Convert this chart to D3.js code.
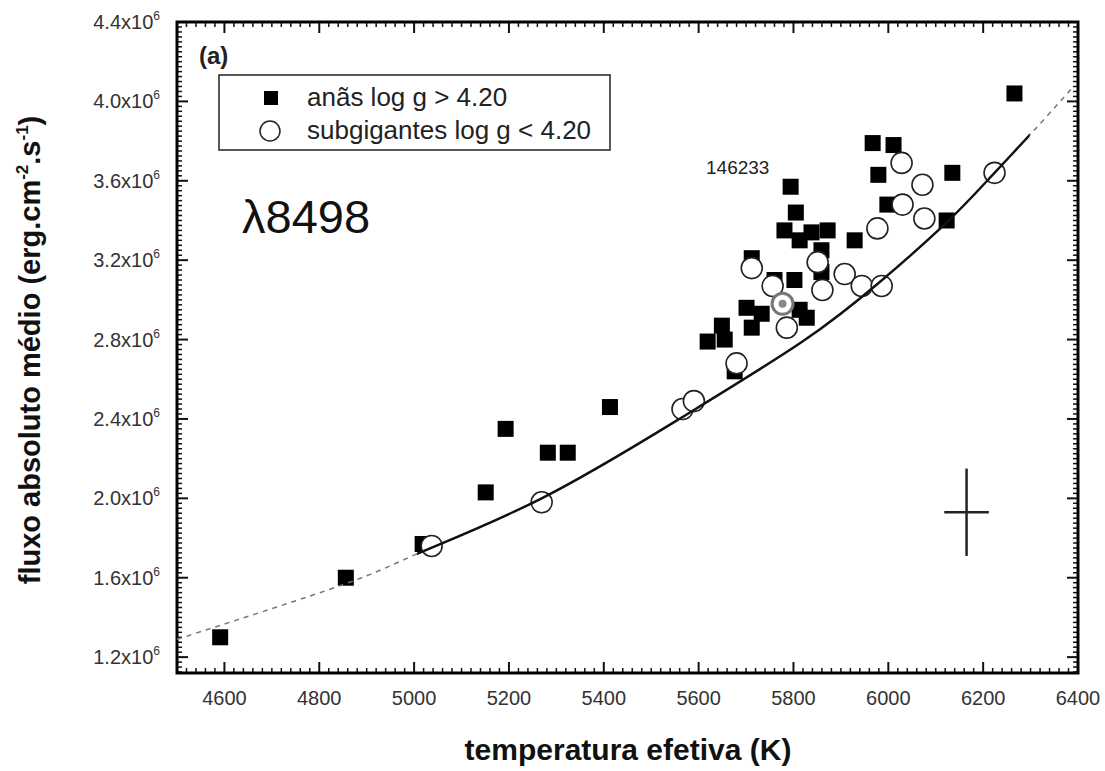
<!DOCTYPE html>
<html>
<head>
<meta charset="utf-8">
<script src="https://cdn.jsdelivr.net/npm/d3@7"></script>
<style>
  body { margin: 0; background: #fff; }
  text { font-family: "Liberation Sans", Arial, sans-serif; }
</style>
</head>
<body>
<svg id="chart" width="1105" height="771"></svg>
<script>
// anãs (log g > 4.20): temperature (K) and mean absolute flux
var dwarfTemp = [4591, 4856, 5018, 5151, 5193, 5282, 5324, 5413, 5619, 5655, 5649, 5676,
                 5701, 5733, 5712, 5760, 5802, 5813, 5828, 5712, 5794, 5805, 5781, 5813,
                 5838, 5872, 5859, 5929, 5967, 6011, 5979, 5998, 6135, 6123, 6266, 5859];
var dwarfFlux = [1.30e6, 1.60e6, 1.77e6, 2.03e6, 2.35e6, 2.23e6, 2.23e6, 2.46e6, 2.79e6, 2.80e6, 2.87e6, 2.64e6,
                 2.96e6, 2.93e6, 2.86e6, 3.10e6, 3.10e6, 2.95e6, 2.91e6, 3.21e6, 3.57e6, 3.44e6, 3.35e6, 3.30e6,
                 3.34e6, 3.35e6, 3.25e6, 3.30e6, 3.79e6, 3.78e6, 3.63e6, 3.48e6, 3.64e6, 3.40e6, 4.04e6, 3.14e6];

// subgigantes (log g < 4.20)
var subTemp = [5037, 5269, 5566, 5590, 5680, 5712, 5756, 5786, 5851, 5861, 5908, 5944,
               5986, 5977, 6028, 6072, 6030, 6076, 6224];
var subFlux = [1.76e6, 1.98e6, 2.45e6, 2.49e6, 2.68e6, 3.16e6, 3.07e6, 2.86e6, 3.19e6, 3.05e6, 3.13e6, 3.07e6,
               3.07e6, 3.36e6, 3.69e6, 3.58e6, 3.48e6, 3.41e6, 3.64e6];

// highlighted star (grey ring)
var markTemp = [5777];
var markFlux = [2.98e6];

// fitted curve; solid between fitSolidFrom and fitSolidTo, dashed outside
var fitTemp = [4500, 4850, 5006, 5269, 5566, 5819, 5982, 6123, 6220, 6298, 6385];
var fitFlux = [1.29e6, 1.565e6, 1.72e6, 2.00e6, 2.41e6, 2.79e6, 3.09e6, 3.39e6, 3.63e6, 3.83e6, 4.06e6];
var fitSolidFrom = 5006, fitSolidTo = 6298;

// typical error bar
var errTemp = 6165, errFlux = 1.93e6, errDT = 47, errDF = 0.22e6;

var xTicks = [4600, 4800, 5000, 5200, 5400, 5600, 5800, 6000, 6200, 6400];
var yTicks = [1.2e6, 1.6e6, 2.0e6, 2.4e6, 2.8e6, 3.2e6, 3.6e6, 4.0e6, 4.4e6];
var yTickLabels = ["1.2", "1.6", "2.0", "2.4", "2.8", "3.2", "3.6", "4.0", "4.4"];

function drawChart() {
    var svg = d3.select("#chart"),
        pLeft = 177, pRight = 1078, pTop = 22, pBottom = 673;

    var x = d3.scaleLinear().domain([4500, 6400]).range([pLeft, pRight]),
        y = d3.scaleLinear().domain([1.12e6, 4.4e6]).range([pBottom, pTop]);

    var g = svg.append("g");

    // minor / major ticks, all pointing inward, on all four sides
    var minorX = d3.range(4500, 6400.1, 20),
        minorY = d3.range(1.125e6, 4.4e6 + 1, 0.025e6);

    function isMajorX(d) { return xTicks.indexOf(d) >= 0 || d === 4500; }
    function isMajorY(d) { return yTicks.some(function(t) { return Math.abs(t - d) < 1000; }); }

    var tickG = g.append("g").attr("stroke", "#111");
    tickG.selectAll(".mxb").data(minorX).enter().append("line")
        .attr("x1", d => x(d)).attr("x2", d => x(d))
        .attr("y1", pBottom).attr("y2", d => pBottom - (isMajorX(d) ? 11 : 5))
        .attr("stroke-width", d => isMajorX(d) ? 2 : 1.5);
    tickG.selectAll(".mxt").data(minorX).enter().append("line")
        .attr("x1", d => x(d)).attr("x2", d => x(d))
        .attr("y1", pTop).attr("y2", d => pTop + (isMajorX(d) ? 11 : 5))
        .attr("stroke-width", d => isMajorX(d) ? 2 : 1.5);
    tickG.selectAll(".myl").data(minorY).enter().append("line")
        .attr("y1", d => y(d)).attr("y2", d => y(d))
        .attr("x1", pLeft).attr("x2", d => pLeft + (isMajorY(d) ? 11 : 5))
        .attr("stroke-width", d => isMajorY(d) ? 2 : 1.5);
    tickG.selectAll(".myr").data(minorY).enter().append("line")
        .attr("y1", d => y(d)).attr("y2", d => y(d))
        .attr("x1", pRight).attr("x2", d => pRight - (isMajorY(d) ? 11 : 5))
        .attr("stroke-width", d => isMajorY(d) ? 2 : 1.5);

    // frame
    g.append("rect")
        .attr("x", pLeft).attr("y", pTop)
        .attr("width", pRight - pLeft).attr("height", pBottom - pTop)
        .attr("fill", "none").attr("stroke", "#000").attr("stroke-width", 3);

    // x tick labels
    g.selectAll(".xl").data(xTicks).enter().append("text")
        .attr("x", d => x(d)).attr("y", 705)
        .attr("text-anchor", "middle")
        .attr("font-size", 20).attr("fill", "#333")
        .text(d => d);

    // y tick labels with superscript
    var yl = g.selectAll(".yl").data(yTicks).enter().append("text")
        .attr("x", 160).attr("y", d => y(d) + 7)
        .attr("text-anchor", "end")
        .attr("font-size", 20).attr("fill", "#333");
    yl.append("tspan").text((d, i) => yTickLabels[i] + "x10");
    yl.append("tspan").attr("dy", -9).attr("font-size", 12).text("6");

    // axis titles
    g.append("text")
        .attr("x", 628).attr("y", 760)
        .attr("text-anchor", "middle")
        .attr("font-size", 30).attr("font-weight", "bold").attr("fill", "#111")
        .text("temperatura efetiva (K)");

    var yt = g.append("text")
        .attr("transform", "translate(40,350) rotate(-90)")
        .attr("text-anchor", "middle")
        .attr("font-size", 29).attr("font-weight", "bold").attr("fill", "#111");
    yt.append("tspan").text("fluxo absoluto médio (erg.cm");
    yt.append("tspan").attr("dy", -12).attr("font-size", 17).text("-2");
    yt.append("tspan").attr("dy", 12).text(".s");
    yt.append("tspan").attr("dy", -12).attr("font-size", 17).text("-1");
    yt.append("tspan").attr("dy", 12).text(")");

    // panel annotations
    g.append("text").attr("x", 199).attr("y", 64)
        .attr("font-size", 24).attr("font-weight", "bold").attr("fill", "#222").text("(a)");
    g.append("text").attr("x", 242).attr("y", 233)
        .attr("font-size", 47).attr("fill", "#111").text("λ8498");
    g.append("text").attr("x", 706).attr("y", 174)
        .attr("font-size", 19).attr("fill", "#222").text("146233");

    // legend
    var lg = g.append("g");
    lg.append("rect").attr("x", 219).attr("y", 75).attr("width", 391).attr("height", 75)
        .attr("fill", "#fff").attr("stroke", "#222").attr("stroke-width", 1.5);
    lg.append("rect").attr("x", 264).attr("y", 91).attr("width", 14).attr("height", 14).attr("fill", "#000");
    lg.append("circle").attr("cx", 270).attr("cy", 131).attr("r", 10)
        .attr("fill", "#fff").attr("stroke", "#222").attr("stroke-width", 1.5);
    lg.append("text").attr("x", 307).attr("y", 106).attr("font-size", 26).attr("fill", "#222")
        .text("anãs log g > 4.20");
    lg.append("text").attr("x", 307).attr("y", 139).attr("font-size", 26).attr("fill", "#222")
        .text("subgigantes log g < 4.20");

    // points
    var s = 16;
    g.selectAll(".dwarf").data(dwarfTemp).enter().append("rect")
        .attr("x", d => x(d) - s / 2).attr("y", (d, i) => y(dwarfFlux[i]) - s / 2)
        .attr("width", s).attr("height", s).attr("fill", "#000");

    g.selectAll(".sub").data(subTemp).enter().append("circle")
        .attr("cx", d => x(d)).attr("cy", (d, i) => y(subFlux[i])).attr("r", 10.5)
        .attr("fill", "#fff").attr("stroke", "#222").attr("stroke-width", 1.6);

    g.selectAll(".mark").data(markTemp).enter().append("circle")
        .attr("cx", d => x(d)).attr("cy", (d, i) => y(markFlux[i])).attr("r", 10.5)
        .attr("fill", "#fff").attr("stroke", "#777").attr("stroke-width", 3);
    g.selectAll(".markdot").data(markTemp).enter().append("circle")
        .attr("cx", d => x(d)).attr("cy", (d, i) => y(markFlux[i])).attr("r", 4)
        .attr("fill", "#888");

    // fit curve: dashed over the full range, solid part clipped on top
    var fitPts = fitTemp.map((t, i) => [t, fitFlux[i]]);
    var line = d3.line()
        .x(d => x(d[0])).y(d => y(d[1]))
        .curve(d3.curveNatural);

    svg.append("defs").append("clipPath").attr("id", "solidClip")
        .append("rect")
        .attr("x", x(fitSolidFrom)).attr("y", pTop)
        .attr("width", x(fitSolidTo) - x(fitSolidFrom)).attr("height", pBottom - pTop);

    g.append("path")
        .attr("d", line(fitPts))
        .attr("fill", "none").attr("stroke", "#777").attr("stroke-width", 1.5)
        .attr("stroke-dasharray", "5,5");
    g.append("path")
        .attr("d", line(fitPts))
        .attr("clip-path", "url(#solidClip)")
        .attr("fill", "none").attr("stroke", "#111").attr("stroke-width", 2.4);

    // error cross
    g.append("line")
        .attr("x1", x(errTemp)).attr("x2", x(errTemp))
        .attr("y1", y(errFlux + errDF)).attr("y2", y(errFlux - errDF))
        .attr("stroke", "#222").attr("stroke-width", 2.5);
    g.append("line")
        .attr("x1", x(errTemp - errDT)).attr("x2", x(errTemp + errDT))
        .attr("y1", y(errFlux)).attr("y2", y(errFlux))
        .attr("stroke", "#222").attr("stroke-width", 2.5);
}

drawChart();
</script>
</body>
</html>
